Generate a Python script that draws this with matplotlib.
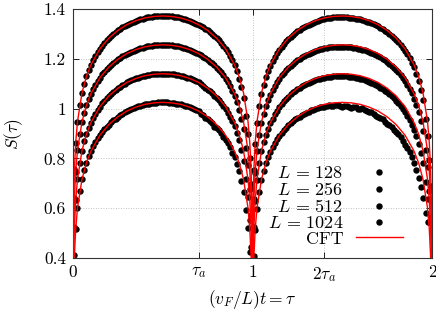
import numpy as np
import matplotlib
matplotlib.use("Agg")
import matplotlib.pyplot as plt
from matplotlib.lines import Line2D

FS = 12.5

plt.rcParams.update({
    "font.family": "serif",
    "font.serif": ["cmr10"],
    "mathtext.fontset": "cm",
    "axes.formatter.use_mathtext": True,
    "font.size": FS,
})

nan = np.nan
tau_a = 0.7

# time points of the lattice data (both arches)
tau_dots = [0.008, 0.015, 0.025, 0.05, 0.075, 0.1, 0.125, 0.15, 0.175, 0.2, 0.225,
            0.25, 0.275, 0.3, 0.325, 0.35, 0.375, 0.4, 0.425, 0.45, 0.475, 0.5,
            0.525, 0.55, 0.575, 0.6, 0.625, 0.65, 0.675, 0.7, 0.725, 0.75, 0.775,
            0.8, 0.825, 0.85, 0.875, 0.9, 0.925, 0.95, 0.965, 0.975, 0.985, 0.992,
            1.008, 1.015, 1.025, 1.05, 1.075, 1.1, 1.125, 1.15, 1.175, 1.2, 1.225,
            1.25, 1.275, 1.3, 1.325, 1.35, 1.375, 1.4, 1.425, 1.45, 1.475, 1.5,
            1.525, 1.55, 1.575, 1.6, 1.625, 1.65, 1.675, 1.7, 1.725, 1.75, 1.775,
            1.8, 1.825, 1.85, 1.875, 1.9, 1.925, 1.95, 1.965, 1.975, 1.985, 1.992]

S_1024 = [0.758, 0.863, 0.948, 1.063, 1.130, 1.176, 1.212, 1.240, 1.264, 1.283, 1.300,
          1.314, 1.326, 1.337, 1.345, 1.353, 1.359, 1.364, 1.367, 1.370, 1.372, 1.372,
          1.372, 1.370, 1.367, 1.364, 1.359, 1.353, 1.345, 1.337, 1.326, 1.314, 1.300,
          1.283, 1.264, 1.240, 1.212, 1.176, 1.120, 1.043, 0.969, 0.898, 0.803, 0.698,
          0.754, 0.859, 0.944, 1.059, 1.126, 1.172, 1.208, 1.236, 1.260, 1.279, 1.296,
          1.310, 1.322, 1.333, 1.341, 1.349, 1.355, 1.360, 1.363, 1.366, 1.367, 1.367,
          1.366, 1.364, 1.361, 1.358, 1.352, 1.346, 1.338, 1.330, 1.319, 1.307, 1.292,
          1.275, 1.256, 1.232, 1.203, 1.166, 1.110, 1.035, 0.960, 0.890, 0.795, 0.690]

S_512 = [0.642, 0.747, 0.832, 0.947, 1.014, 1.060, 1.096, 1.124, 1.148, 1.167, 1.184,
         1.198, 1.210, 1.221, 1.229, 1.237, 1.243, 1.248, 1.251, 1.254, 1.256, 1.256,
         1.256, 1.254, 1.251, 1.248, 1.243, 1.237, 1.229, 1.221, 1.208, 1.196, 1.182,
         1.165, 1.145, 1.120, 1.091, 1.050, 0.994, 0.917, 0.843, 0.772, 0.677, 0.572,
         0.638, 0.743, 0.828, 0.943, 1.010, 1.056, 1.092, 1.120, 1.144, 1.163, 1.180,
         1.194, 1.206, 1.217, 1.225, 1.232, 1.238, 1.243, 1.246, 1.248, 1.249, 1.249,
         1.248, 1.246, 1.243, 1.239, 1.234, 1.228, 1.220, 1.211, 1.200, 1.187, 1.173,
         1.156, 1.136, 1.110, 1.080, 1.040, 0.985, 0.910, 0.835, 0.765, 0.670, 0.565]

S_256 = [0.526, 0.631, 0.716, 0.831, 0.898, 0.944, 0.980, 1.008, 1.032, 1.051, 1.068,
         1.082, 1.094, 1.105, 1.113, 1.121, 1.127, 1.132, 1.135, 1.138, 1.140, 1.140,
         1.140, 1.138, 1.135, 1.132, 1.127, 1.121, 1.113, 1.105, 1.090, 1.076, 1.061,
         1.043, 1.023, 0.998, 0.968, 0.929, 0.873, 0.791, 0.717, 0.646, 0.551, 0.446,
         0.523, 0.628, 0.713, 0.828, 0.895, 0.941, 0.977, 1.005, 1.029, 1.048, 1.065,
         1.078, 1.089, 1.099, 1.107, 1.114, 1.119, 1.124, 1.127, 1.129, 1.130, 1.130,
         1.129, 1.127, 1.124, 1.120, 1.114, 1.108, 1.099, 1.090, 1.078, 1.065, 1.050,
         1.032, 1.012, 0.986, 0.955, 0.915, 0.858, 0.780, 0.705, 0.635, 0.545, nan]

S_128 = [0.411, 0.516, 0.601, 0.716, 0.783, 0.829, 0.865, 0.893, 0.917, 0.936, 0.953,
         0.967, 0.979, 0.990, 0.998, 1.006, 1.012, 1.017, 1.020, 1.023, 1.025, 1.025,
         1.025, 1.023, 1.020, 1.017, 1.012, 1.006, 0.998, 0.990, 0.974, 0.957, 0.941,
         0.921, 0.902, 0.875, 0.845, 0.804, 0.748, 0.666, 0.592, 0.521, 0.426, nan,
         0.408, 0.513, 0.598, 0.713, 0.780, 0.826, 0.862, 0.890, 0.914, 0.933, 0.950,
         0.962, 0.974, 0.983, 0.993, 0.998, 1.006, 1.008, 1.013, 1.010, 1.014, 1.008,
         1.010, 1.004, 1.006, 0.998, 0.996, 0.986, 0.980, 0.966, 0.958, 0.940, 0.928,
         0.905, 0.886, 0.855, 0.825, 0.780, 0.720, 0.640, 0.580, 0.545, nan, nan]

# intermediate time points (the data are dense along the arches)
tau_mid = [0.0375, 0.0625, 0.0875, 0.1125, 0.1375, 0.1625, 0.1875, 0.2125, 0.2375,
           0.2625, 0.2875, 0.3125, 0.3375, 0.3625, 0.3875, 0.4125, 0.4375, 0.4625,
           0.4875, 0.5125, 0.5375, 0.5625, 0.5875, 0.6125, 0.6375, 0.6625, 0.6875,
           0.7125, 0.7375, 0.7625, 0.7875, 0.8125, 0.8375, 0.8625, 0.8875, 0.9125,
           0.9375,
           1.0375, 1.0625, 1.0875, 1.1125, 1.1375, 1.1625, 1.1875, 1.2125, 1.2375,
           1.2625, 1.2875, 1.3125, 1.3375, 1.3625, 1.3875, 1.4125, 1.4375, 1.4625,
           1.4875, 1.5125, 1.5375, 1.5625, 1.5875, 1.6125, 1.6375, 1.6625, 1.6875,
           1.7125, 1.7375, 1.7625, 1.7875, 1.8125, 1.8375, 1.8625, 1.8875, 1.9125,
           1.9375]

M_1024 = [1.015, 1.100, 1.155, 1.195, 1.227, 1.253, 1.274, 1.292, 1.307, 1.320, 1.332,
          1.341, 1.349, 1.356, 1.361, 1.366, 1.369, 1.371, 1.372, 1.372, 1.371, 1.369,
          1.366, 1.361, 1.356, 1.349, 1.341, 1.332, 1.320, 1.307, 1.292, 1.274, 1.253,
          1.227, 1.195, 1.150, 1.085,
          1.011, 1.096, 1.151, 1.191, 1.223, 1.249, 1.270, 1.288, 1.303, 1.316, 1.328,
          1.337, 1.345, 1.352, 1.358, 1.362, 1.365, 1.367, 1.367, 1.367, 1.365, 1.363,
          1.360, 1.355, 1.349, 1.342, 1.334, 1.325, 1.313, 1.300, 1.284, 1.266, 1.244,
          1.218, 1.185, 1.140, 1.075]

M_512 = [0.899, 0.984, 1.039, 1.079, 1.111, 1.137, 1.158, 1.176, 1.191, 1.204, 1.216,
         1.225, 1.233, 1.240, 1.245, 1.250, 1.253, 1.255, 1.256, 1.256, 1.255, 1.253,
         1.250, 1.245, 1.240, 1.233, 1.225, 1.214, 1.202, 1.189, 1.174, 1.155, 1.133,
         1.106, 1.072, 1.025, 0.958,
         0.895, 0.980, 1.035, 1.075, 1.107, 1.133, 1.154, 1.172, 1.187, 1.200, 1.212,
         1.221, 1.229, 1.235, 1.241, 1.245, 1.247, 1.249, 1.249, 1.249, 1.247, 1.245,
         1.241, 1.237, 1.231, 1.224, 1.216, 1.206, 1.194, 1.180, 1.165, 1.146, 1.123,
         1.096, 1.061, 1.014, 0.950]

M_256 = [0.783, 0.868, 0.923, 0.963, 0.995, 1.021, 1.042, 1.060, 1.075, 1.088, 1.100,
         1.109, 1.117, 1.124, 1.129, 1.134, 1.137, 1.139, 1.140, 1.140, 1.139, 1.137,
         1.134, 1.129, 1.124, 1.117, 1.109, 1.098, 1.083, 1.069, 1.052, 1.033, 1.011,
         0.984, 0.950, 0.903, 0.835,
         0.780, 0.865, 0.920, 0.960, 0.992, 1.018, 1.039, 1.057, 1.071, 1.084, 1.094,
         1.103, 1.111, 1.117, 1.122, 1.126, 1.128, 1.130, 1.130, 1.130, 1.128, 1.126,
         1.122, 1.117, 1.111, 1.104, 1.095, 1.084, 1.072, 1.058, 1.041, 1.022, 0.999,
         0.971, 0.935, 0.888, 0.820]

M_128 = [0.668, 0.753, 0.808, 0.848, 0.880, 0.906, 0.927, 0.945, 0.960, 0.973, 0.985,
         0.994, 1.002, 1.009, 1.014, 1.019, 1.022, 1.024, 1.025, 1.025, 1.024, 1.022,
         1.019, 1.014, 1.009, 1.002, 0.994, 0.980, 0.962, 0.952, 0.928, 0.914, 0.886,
         0.862, 0.822, 0.779, 0.708,
         0.665, 0.750, 0.805, 0.845, 0.877, 0.903, 0.924, 0.942, 0.957, 0.968, 0.980,
         0.988, 0.996, 1.001, 1.005, 1.012, 1.009, 1.013, 1.010, 1.012, 1.006, 1.008,
         1.000, 1.001, 0.990, 0.985, 0.972, 0.964, 0.948, 0.936, 0.916, 0.898, 0.870,
         0.842, 0.805, 0.752, 0.685]

# CFT curves, one arch (repeats with period 1)
tau_cft = [0.0005, 0.001, 0.002, 0.004, 0.008, 0.015, 0.025, 0.05, 0.075, 0.1, 0.15,
           0.2, 0.25, 0.3, 0.35, 0.4, 0.45, 0.5, 0.55, 0.6, 0.65, 0.7, 0.75, 0.8,
           0.85, 0.9, 0.925, 0.95, 0.975, 0.985, 0.992, 0.996, 0.998, 0.999, 0.9995]

cft_1024 = [0.296, 0.412, 0.527, 0.643, 0.758, 0.863, 0.948, 1.063, 1.130, 1.176, 1.240,
            1.283, 1.314, 1.337, 1.353, 1.364, 1.370, 1.372, 1.370, 1.364, 1.353, 1.337,
            1.314, 1.283, 1.240, 1.176, 1.130, 1.063, 0.948, 0.863, 0.758, 0.643, 0.527,
            0.412, 0.296]
cft_512 = [0.180, 0.296, 0.411, 0.527, 0.642, 0.747, 0.832, 0.947, 1.014, 1.060, 1.124,
           1.167, 1.198, 1.221, 1.237, 1.248, 1.254, 1.256, 1.254, 1.248, 1.237, 1.221,
           1.198, 1.167, 1.124, 1.060, 1.014, 0.947, 0.832, 0.747, 0.642, 0.527, 0.411,
           0.296, 0.180]
cft_256 = [0.064, 0.180, 0.295, 0.411, 0.526, 0.631, 0.716, 0.831, 0.898, 0.944, 1.008,
           1.051, 1.082, 1.105, 1.121, 1.132, 1.138, 1.140, 1.138, 1.132, 1.121, 1.105,
           1.082, 1.051, 1.008, 0.944, 0.898, 0.831, 0.716, 0.631, 0.526, 0.411, 0.295,
           0.180, 0.064]
cft_128 = [-0.051, 0.065, 0.180, 0.296, 0.411, 0.516, 0.601, 0.716, 0.783, 0.829, 0.893,
           0.936, 0.967, 0.990, 1.006, 1.017, 1.023, 1.025, 1.023, 1.017, 1.006, 0.990,
           0.967, 0.936, 0.893, 0.829, 0.783, 0.716, 0.601, 0.516, 0.411, 0.296, 0.180,
           0.065, -0.051]

sizes = [128, 256, 512, 1024]
dots = [S_128, S_256, S_512, S_1024]
mids = [M_128, M_256, M_512, M_1024]
cfts = [cft_128, cft_256, cft_512, cft_1024]

xticks = [0, tau_a, 1, 2 * tau_a, 2]
xticklabels = ["0", r"$\tau_a$", "1", r"$2\tau_a$", "2"]
yticks = [0.4, 0.6, 0.8, 1.0, 1.2, 1.4]
yticklabels = ["0.4", "0.6", "0.8", "1", "1.2", "1.4"]

MS = 4.6

fig = plt.figure(figsize=(4.36, 3.12), dpi=100)
ax = fig.add_axes([73 / 436, 1 - 258 / 312, 359 / 436, 249 / 312])

tau_c = np.array(tau_cft)
for L, s, m, c in zip(sizes, dots, mids, cfts):
    ax.plot(tau_dots, s, "o", color="black", ms=MS, mew=0, zorder=2)
    ax.plot(tau_mid, m, "o", color="black", ms=MS, mew=0, zorder=2)
    ax.plot(np.concatenate([tau_c, tau_c + 1]), c + c, color="red", lw=1.0, zorder=3)

ax.set_xlim(0, 2)
ax.set_ylim(0.4, 1.4)
ax.set_xticks(xticks)
ax.set_xticklabels(xticklabels)
ax.set_yticks(yticks)
ax.set_yticklabels(yticklabels)
ax.tick_params(direction="in", top=True, right=True, length=4, width=0.6, pad=5)
ax.grid(True, color="#b0b0b0", linestyle=(0, (1, 2)), linewidth=0.6)
for sp in ax.spines.values():
    sp.set_linewidth(0.8)
    sp.set_color("#333333")

ax.set_xlabel(r"$(v_F/L)t = \tau$", labelpad=3)
ax.set_ylabel(r"$S(\tau)$")
ax.yaxis.set_label_coords(-0.135, 0.5)

handles = [Line2D([], [], ls="none", marker="o", color="black", ms=MS, mew=0)
           for _ in sizes]
handles.append(Line2D([], [], color="red", lw=1.0))
labels = [rf"$L\,=\,{L}$" for L in sizes] + ["CFT"]
ax.legend(handles, labels, loc="lower right", bbox_to_anchor=(0.919, 0.045),
          frameon=False, markerfirst=False, numpoints=1, handlelength=2.6,
          handletextpad=0.7, labelspacing=0.0, borderpad=0, borderaxespad=0,
          fontsize=13)

fig.savefig("out.png", dpi=100)
